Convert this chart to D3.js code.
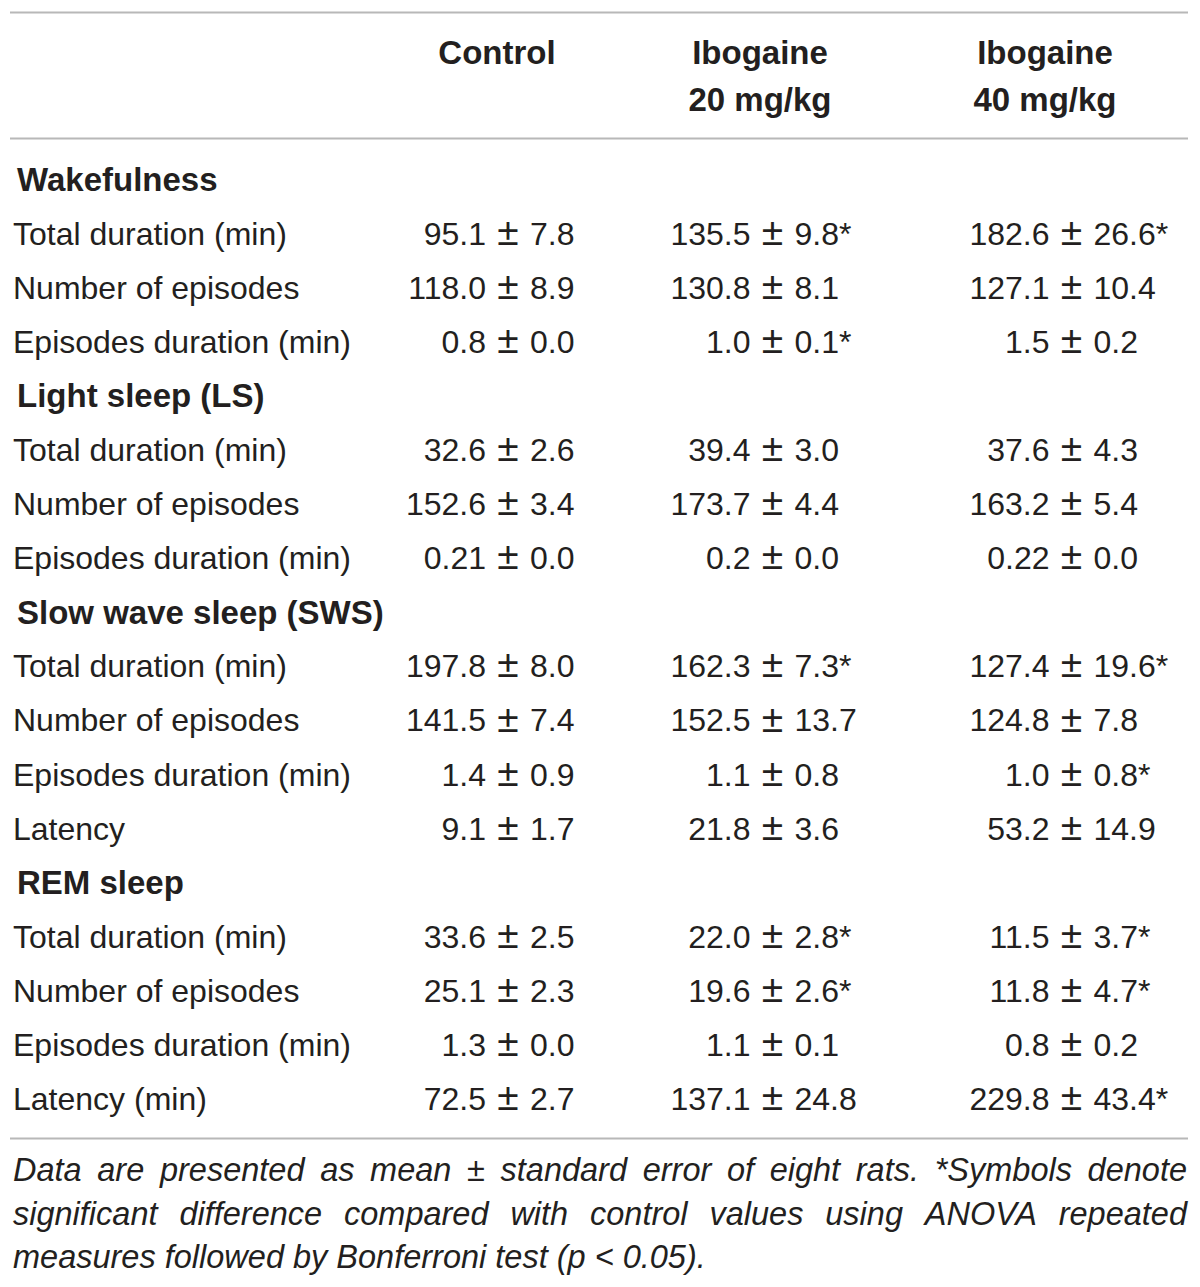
<!DOCTYPE html>
<html><head><meta charset="utf-8">
<script src="https://cdn.jsdelivr.net/npm/d3@7"></script>
<style>
html,body{margin:0;padding:0;background:#fff;}
svg{display:block;}
text{font-family:"Liberation Sans",Arial,Helvetica,sans-serif;fill:#231f20;}
</style></head><body>
<script>
// ---- data ----
const groups = ["Control", "Ibogaine|20 mg/kg", "Ibogaine|40 mg/kg"];
const sections = ["Wakefulness", "Light sleep (LS)", "Slow wave sleep (SWS)", "REM sleep"];
const sectionMeasures = [
  ["Total duration (min)", "Number of episodes", "Episodes duration (min)"],
  ["Total duration (min)", "Number of episodes", "Episodes duration (min)"],
  ["Total duration (min)", "Number of episodes", "Episodes duration (min)", "Latency"],
  ["Total duration (min)", "Number of episodes", "Episodes duration (min)", "Latency (min)"]
];
const controlMean = ["95.1","118.0","0.8","32.6","152.6","0.21","197.8","141.5","1.4","9.1","33.6","25.1","1.3","72.5"];
const controlSE   = ["7.8","8.9","0.0","2.6","3.4","0.0","8.0","7.4","0.9","1.7","2.5","2.3","0.0","2.7"];
const controlSig  = [0,0,0,0,0,0,0,0,0,0,0,0,0,0];
const ibo20Mean = ["135.5","130.8","1.0","39.4","173.7","0.2","162.3","152.5","1.1","21.8","22.0","19.6","1.1","137.1"];
const ibo20SE   = ["9.8","8.1","0.1","3.0","4.4","0.0","7.3","13.7","0.8","3.6","2.8","2.6","0.1","24.8"];
const ibo20Sig  = [1,0,1,0,0,0,1,0,0,0,1,1,0,0];
const ibo40Mean = ["182.6","127.1","1.5","37.6","163.2","0.22","127.4","124.8","1.0","53.2","11.5","11.8","0.8","229.8"];
const ibo40SE   = ["26.6","10.4","0.2","4.3","5.4","0.0","19.6","7.8","0.8","14.9","3.7","4.7","0.2","43.4"];
const ibo40Sig  = [1,0,0,0,0,0,1,0,1,0,1,1,0,1];
const footLines = [
  "Data are presented as mean \u00b1 standard error of eight rats. *Symbols denote",
  "significant difference compared with control values using ANOVA repeated",
  "measures followed by Bonferroni test (p < 0.05)."
];

// ---- build rows ----
const rows = [];
let k = 0;
sections.forEach((s, si) => {
  rows.push({type: "section", label: s});
  sectionMeasures[si].forEach(m => {
    rows.push({type: "data", label: m, cells: [
      {mean: controlMean[k], se: controlSE[k], sig: controlSig[k]},
      {mean: ibo20Mean[k], se: ibo20SE[k], sig: ibo20Sig[k]},
      {mean: ibo40Mean[k], se: ibo40SE[k], sig: ibo40Sig[k]}
    ]});
    k++;
  });
});

const W = 1200, H = 1287;
const svg = d3.select("body").append("svg").attr("width", W).attr("height", H);

const fs = 32, fsBold = 33;
const y = d3.scalePoint().domain(d3.range(rows.length)).range([180, 1099]);
const xHead = d3.scaleOrdinal().domain(groups).range([497, 760, 1045]);
const xPm = d3.scaleOrdinal().domain([0,1,2]).range([508, 772.5, 1071.5]);

// rules
const ruleColor = "#b8b8b8";
[12.5, 138.5, 1138.5].forEach(yy => {
  svg.append("line").attr("x1", 10).attr("x2", 1188).attr("y1", yy).attr("y2", yy)
    .attr("stroke", ruleColor).attr("stroke-width", 2.2);
});

// header
groups.forEach(g => {
  const parts = g.split("|");
  const t = svg.append("text").attr("text-anchor", "middle").attr("font-weight", "bold")
    .attr("font-size", fsBold);
  parts.forEach((p, i) => {
    t.append("tspan").attr("x", xHead(g)).attr("y", 64 + i * 46.5).text(p);
  });
});

// rows
rows.forEach((r, i) => {
  const yy = y(i);
  if (r.type === "section") {
    svg.append("text").attr("x", 17).attr("y", yy).attr("dy", "0.34em")
      .attr("font-size", fsBold).attr("font-weight", "bold").text(r.label);
  } else {
    svg.append("text").attr("x", 13).attr("y", yy).attr("dy", "0.34em")
      .attr("font-size", fs).text(r.label);
    r.cells.forEach((c, ci) => {
      const cx = xPm(ci);
      svg.append("text").attr("x", cx - 22).attr("y", yy).attr("dy", "0.34em")
        .attr("text-anchor", "end").attr("font-size", fs).text(c.mean);
      svg.append("text").attr("x", cx).attr("y", yy).attr("dy", "0.28em")
        .attr("text-anchor", "middle").attr("font-size", 39).text("\u00b1");
      svg.append("text").attr("x", cx + 22).attr("y", yy).attr("dy", "0.34em")
        .attr("text-anchor", "start").attr("font-size", fs)
        .text(c.se + (c.sig ? "*" : ""));
    });
  }
});

// footnote (justified)
const footFs = 32.5;
const left = 13, right = 1187;
footLines.forEach((line, li) => {
  const by = 1181 + li * 43.5;
  const words = line.split(" ");
  if (li === footLines.length - 1) {
    svg.append("text").attr("x", left).attr("y", by).attr("font-size", footFs)
      .attr("font-style", "italic").text(line);
    return;
  }
  const nodes = words.map(w => svg.append("text").attr("y", by).attr("font-size", footFs)
    .attr("font-style", "italic").text(w));
  const widths = nodes.map(n => n.node().getComputedTextLength());
  const total = d3.sum(widths);
  const gap = (right - left - total) / (words.length - 1);
  let xx = left;
  nodes.forEach((n, i) => { n.attr("x", xx); xx += widths[i] + gap; });
});
</script>
</body></html>
